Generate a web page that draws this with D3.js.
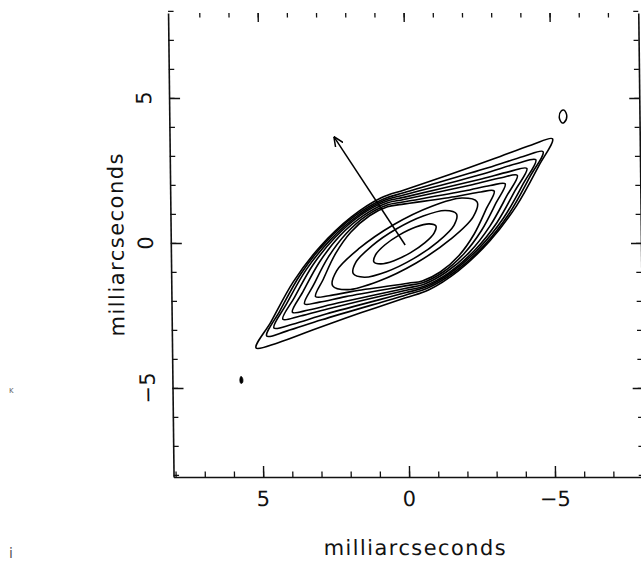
<!DOCTYPE html>
<html>
<head>
<meta charset="utf-8">
<script src="https://cdn.jsdelivr.net/npm/d3@7.9.0/dist/d3.min.js"></script>
<style>
  html, body { margin: 0; padding: 0; background: #fff; }
  svg { display: block; }
  text { font-family: "DejaVu Sans", sans-serif; fill: #111; }
</style>
</head>
<body>
<svg id="chart" width="641" height="573"></svg>
<script>
// axis ticks (milliarcseconds)
const minorTicks = [-8, -7, -6, -5, -4, -3, -2, -1, 0, 1, 2, 3, 4, 5, 6, 7, 8];
const majorTicks = [-5, 0, 5];
const majorLabels = ['\u22125', '0', '5'];

// contour lines, outermost first, [x, y] in mas
const contour1 = [[5.19, -3.62], [4.43, -3.44], [3.13, -2.96], [1.59, -2.41], [0.05, -1.89], [-0.74, -1.62],
  [-1.77, -0.96], [-2.86, 0.07], [-3.79, 1.28], [-4.57, 2.66], [-5.05, 3.59], [-4.33, 3.38], [-3.03, 2.90],
  [-1.49, 2.35], [0.05, 1.83], [0.84, 1.56], [1.87, 0.90], [2.96, -0.13], [3.89, -1.34], [4.67, -2.72]];
const contour2 = [[4.82, -3.21], [4.14, -3.04], [2.93, -2.65], [0.06, -1.80], [-0.68, -1.57], [-1.63, -1.01],
  [-2.66, -0.09], [-3.53, 1.01], [-4.26, 2.28], [-4.72, 3.15], [-4.04, 2.98], [-2.83, 2.59], [0.04, 1.74],
  [0.78, 1.51], [1.73, 0.95], [2.76, 0.03], [3.63, -1.07], [4.36, -2.34]];
const contour3 = [[4.57, -2.93], [3.93, -2.80], [2.78, -2.45], [0.06, -1.72], [-0.63, -1.53], [-1.54, -1.01],
  [-2.51, -0.16], [-3.34, 0.86], [-4.04, 2.06], [-4.47, 2.87], [-3.83, 2.74], [-2.68, 2.39], [0.04, 1.66],
  [0.73, 1.47], [1.64, 0.95], [2.61, 0.10], [3.44, -0.92], [4.14, -2.12]];
const contour4 = [[4.26, -2.63], [3.66, -2.52], [2.59, -2.24], [0.06, -1.64], [-0.59, -1.49], [-1.44, -1.03],
  [-2.34, -0.25], [-3.11, 0.70], [-3.75, 1.81], [-4.16, 2.57], [-3.56, 2.46], [-2.49, 2.18], [0.04, 1.58],
  [0.69, 1.43], [1.54, 0.97], [2.44, 0.19], [3.21, -0.76], [3.85, -1.87]];
const contour5 = [[3.93, -2.39], [3.38, -2.31], [2.38, -2.07], [0.03, -1.56], [-0.57, -1.43], [-1.35, -1.01],
  [-2.18, -0.30], [-2.87, 0.58], [-3.46, 1.62], [-3.83, 2.33], [-3.28, 2.25], [-2.28, 2.01], [0.07, 1.50],
  [0.67, 1.37], [1.45, 0.95], [2.28, 0.24], [2.97, -0.64], [3.56, -1.68]];
const contour6 = [[3.51, -2.10], [3.00, -2.04], [2.10, -1.85], [0.00, -1.47], [-0.54, -1.37], [-1.24, -1.01],
  [-1.97, -0.37], [-2.58, 0.43], [-3.09, 1.38], [-3.41, 2.04], [-2.90, 1.98], [-2.00, 1.79], [0.10, 1.41],
  [0.64, 1.31], [1.34, 0.95], [2.07, 0.31], [2.68, -0.49], [3.19, -1.44]];
const contour7 = [[3.13, -1.85], [2.67, -1.82], [1.87, -1.67], [-0.04, -1.39], [-0.53, -1.31], [-1.15, -1.00],
  [-1.80, -0.43], [-2.33, 0.31], [-2.76, 1.19], [-3.03, 1.79], [-2.57, 1.76], [-1.77, 1.61], [0.14, 1.33],
  [0.63, 1.25], [1.25, 0.94], [1.90, 0.37], [2.43, -0.37], [2.86, -1.25]];
const contour8 = [[-2.44, 1.42], [-2.30, 0.90], [-1.52, 0.13], [-0.33, -0.69], [0.97, -1.32], [2.02, -1.61],
  [2.54, -1.48], [2.40, -0.96], [1.62, -0.19], [0.43, 0.63], [-0.87, 1.26], [-1.92, 1.55]];
const contour9 = [[-1.73, 1.00], [-1.64, 0.61], [-1.09, 0.05], [-0.24, -0.54], [0.69, -0.99], [1.45, -1.18],
  [1.83, -1.06], [1.74, -0.67], [1.19, -0.11], [0.34, 0.48], [-0.59, 0.93], [-1.35, 1.12]];
const contour10 = [[-1.02, 0.59], [-0.96, 0.35], [-0.64, 0.01], [-0.13, -0.34], [0.43, -0.61], [0.89, -0.72],
  [1.12, -0.65], [1.06, -0.41], [0.74, -0.07], [0.23, 0.28], [-0.33, 0.55], [-0.79, 0.66]];
const contours = [contour1, contour2, contour3, contour4, contour5, contour6, contour7, contour8, contour9, contour10];

// stray bits of the map
const smallBlob = [[-5.46, 4.58], [-5.55, 4.38], [-5.46, 4.16], [-5.38, 4.14], [-5.29, 4.34], [-5.36, 4.55]];
const dotBlob = [[5.72, -4.60], [5.66, -4.68], [5.67, -4.82], [5.73, -4.84], [5.76, -4.72]];

// arrow from the core
const arrowFrom = [0.04, -0.07];
const arrowTo = [2.44, 3.67];

const svg = d3.select('#chart');
const x = d3.scaleLinear().domain([8.07, -8.04]).range([170.8, 641]);
const y = d3.scaleLinear().domain([-8.07, 7.93]).range([477, 13]);

svg.append('defs')
  .append('marker')
  .attr('id', 'head')
  .attr('viewBox', '0 0 10 10')
  .attr('refX', 10).attr('refY', 5)
  .attr('markerWidth', 10).attr('markerHeight', 10)
  .attr('markerUnits', 'userSpaceOnUse')
  .attr('orient', 'auto')
  .append('path')
  .attr('d', 'M0,0.5 L10,5 L0,9.5')
  .attr('fill', 'none')
  .attr('stroke', '#000')
  .attr('stroke-width', 1.5);

// the scan is slightly sheared, keep that
const g = svg.append('g')
  .attr('transform', 'translate(0,244) skewX(0.68) translate(0,-244)');

function styleAxis(sel, width) {
  sel.selectAll('.domain').attr('stroke', '#111').attr('stroke-width', 1.6);
  sel.selectAll('.tick line').attr('stroke', '#111').attr('stroke-width', width);
  sel.selectAll('.tick text').remove();
}

// bottom
g.append('g').attr('transform', `translate(0,${y(-8.07)})`)
  .call(d3.axisBottom(x).tickValues(minorTicks).tickSize(-5.5).tickSizeOuter(0))
  .call(styleAxis, 1.3);
g.append('g').attr('transform', `translate(0,${y(-8.07)})`)
  .call(d3.axisBottom(x).tickValues(majorTicks).tickSize(-11).tickSizeOuter(0))
  .call(styleAxis, 1.4)
  .call((s) => s.select('.domain').remove());

// left
g.append('g').attr('transform', `translate(${x(8.07)},0)`)
  .call(d3.axisLeft(y).tickValues(minorTicks).tickSize(-5.5).tickSizeOuter(0))
  .call(styleAxis, 1.3);
g.append('g').attr('transform', `translate(${x(8.07)},0)`)
  .call(d3.axisLeft(y).tickValues(majorTicks).tickSize(-11).tickSizeOuter(0))
  .call(styleAxis, 1.4)
  .call((s) => s.select('.domain').remove());

// right
g.append('g').attr('transform', `translate(${x(-8.04)},0)`)
  .call(d3.axisRight(y).tickValues(minorTicks).tickSize(-5).tickSizeOuter(0))
  .call(styleAxis, 1.3);
g.append('g').attr('transform', `translate(${x(-8.04)},0)`)
  .call(d3.axisRight(y).tickValues(majorTicks).tickSize(-10).tickSizeOuter(0))
  .call(styleAxis, 1.4)
  .call((s) => s.select('.domain').remove());

// top: ticks only, the frame line is lost in the scan
g.append('g').attr('transform', `translate(0,${y(7.93)})`)
  .call(d3.axisTop(x).tickValues(minorTicks.filter((v) => Math.abs(v) < 8)).tickSize(-4.5).tickSizeOuter(0))
  .call(styleAxis, 1.3)
  .call((s) => s.select('.domain').remove());
g.append('g').attr('transform', `translate(0,${y(7.93)})`)
  .call(d3.axisTop(x).tickValues(majorTicks).tickSize(-9).tickSizeOuter(0))
  .call(styleAxis, 1.4)
  .call((s) => s.select('.domain').remove());

// tick labels
majorTicks.forEach((v, i) => {
  g.append('text')
    .attr('x', x(v)).attr('y', 506.5)
    .attr('text-anchor', 'middle')
    .attr('font-size', 21)
    .text(majorLabels[i]);
  g.append('text')
    .attr('transform', `translate(153,${y(v)}) rotate(-90)`)
    .attr('text-anchor', 'middle')
    .attr('font-size', 21)
    .text(majorLabels[i]);
});

g.append('text')
  .attr('x', 411).attr('y', 555)
  .attr('text-anchor', 'middle')
  .attr('font-size', 21)
  .attr('textLength', 182).attr('lengthAdjust', 'spacing')
  .text('milliarcseconds');

g.append('text')
  .attr('transform', 'translate(123.5,245) rotate(-90)')
  .attr('text-anchor', 'middle')
  .attr('font-size', 21)
  .attr('textLength', 183).attr('lengthAdjust', 'spacing')
  .text('milliarcseconds');

// contours
const line = d3.line()
  .x((d) => x(d[0]))
  .y((d) => y(d[1]))
  .curve(d3.curveCatmullRomClosed.alpha(0.5));

g.append('g')
  .selectAll('path')
  .data(contours)
  .join('path')
  .attr('d', line)
  .attr('fill', 'none')
  .attr('stroke', '#000')
  .attr('stroke-width', 1.6)
  .attr('stroke-linejoin', 'round');

g.append('path')
  .attr('d', line(smallBlob))
  .attr('fill', 'none')
  .attr('stroke', '#000')
  .attr('stroke-width', 1.5);

g.append('path')
  .attr('d', line(dotBlob))
  .attr('fill', '#000')
  .attr('stroke', '#000')
  .attr('stroke-width', 0.8);

g.append('line')
  .attr('x1', x(arrowFrom[0])).attr('y1', y(arrowFrom[1]))
  .attr('x2', x(arrowTo[0])).attr('y2', y(arrowTo[1]))
  .attr('stroke', '#000')
  .attr('stroke-width', 1.5)
  .attr('marker-end', 'url(#head)');

// specks at the page edge
svg.append('text').attr('x', 9).attr('y', 393).attr('font-size', 8).style('fill', '#666').text('\u0138');
svg.append('text').attr('x', 9).attr('y', 558).attr('font-size', 14).style('fill', '#555').text('i');
</script>
</body>
</html>
